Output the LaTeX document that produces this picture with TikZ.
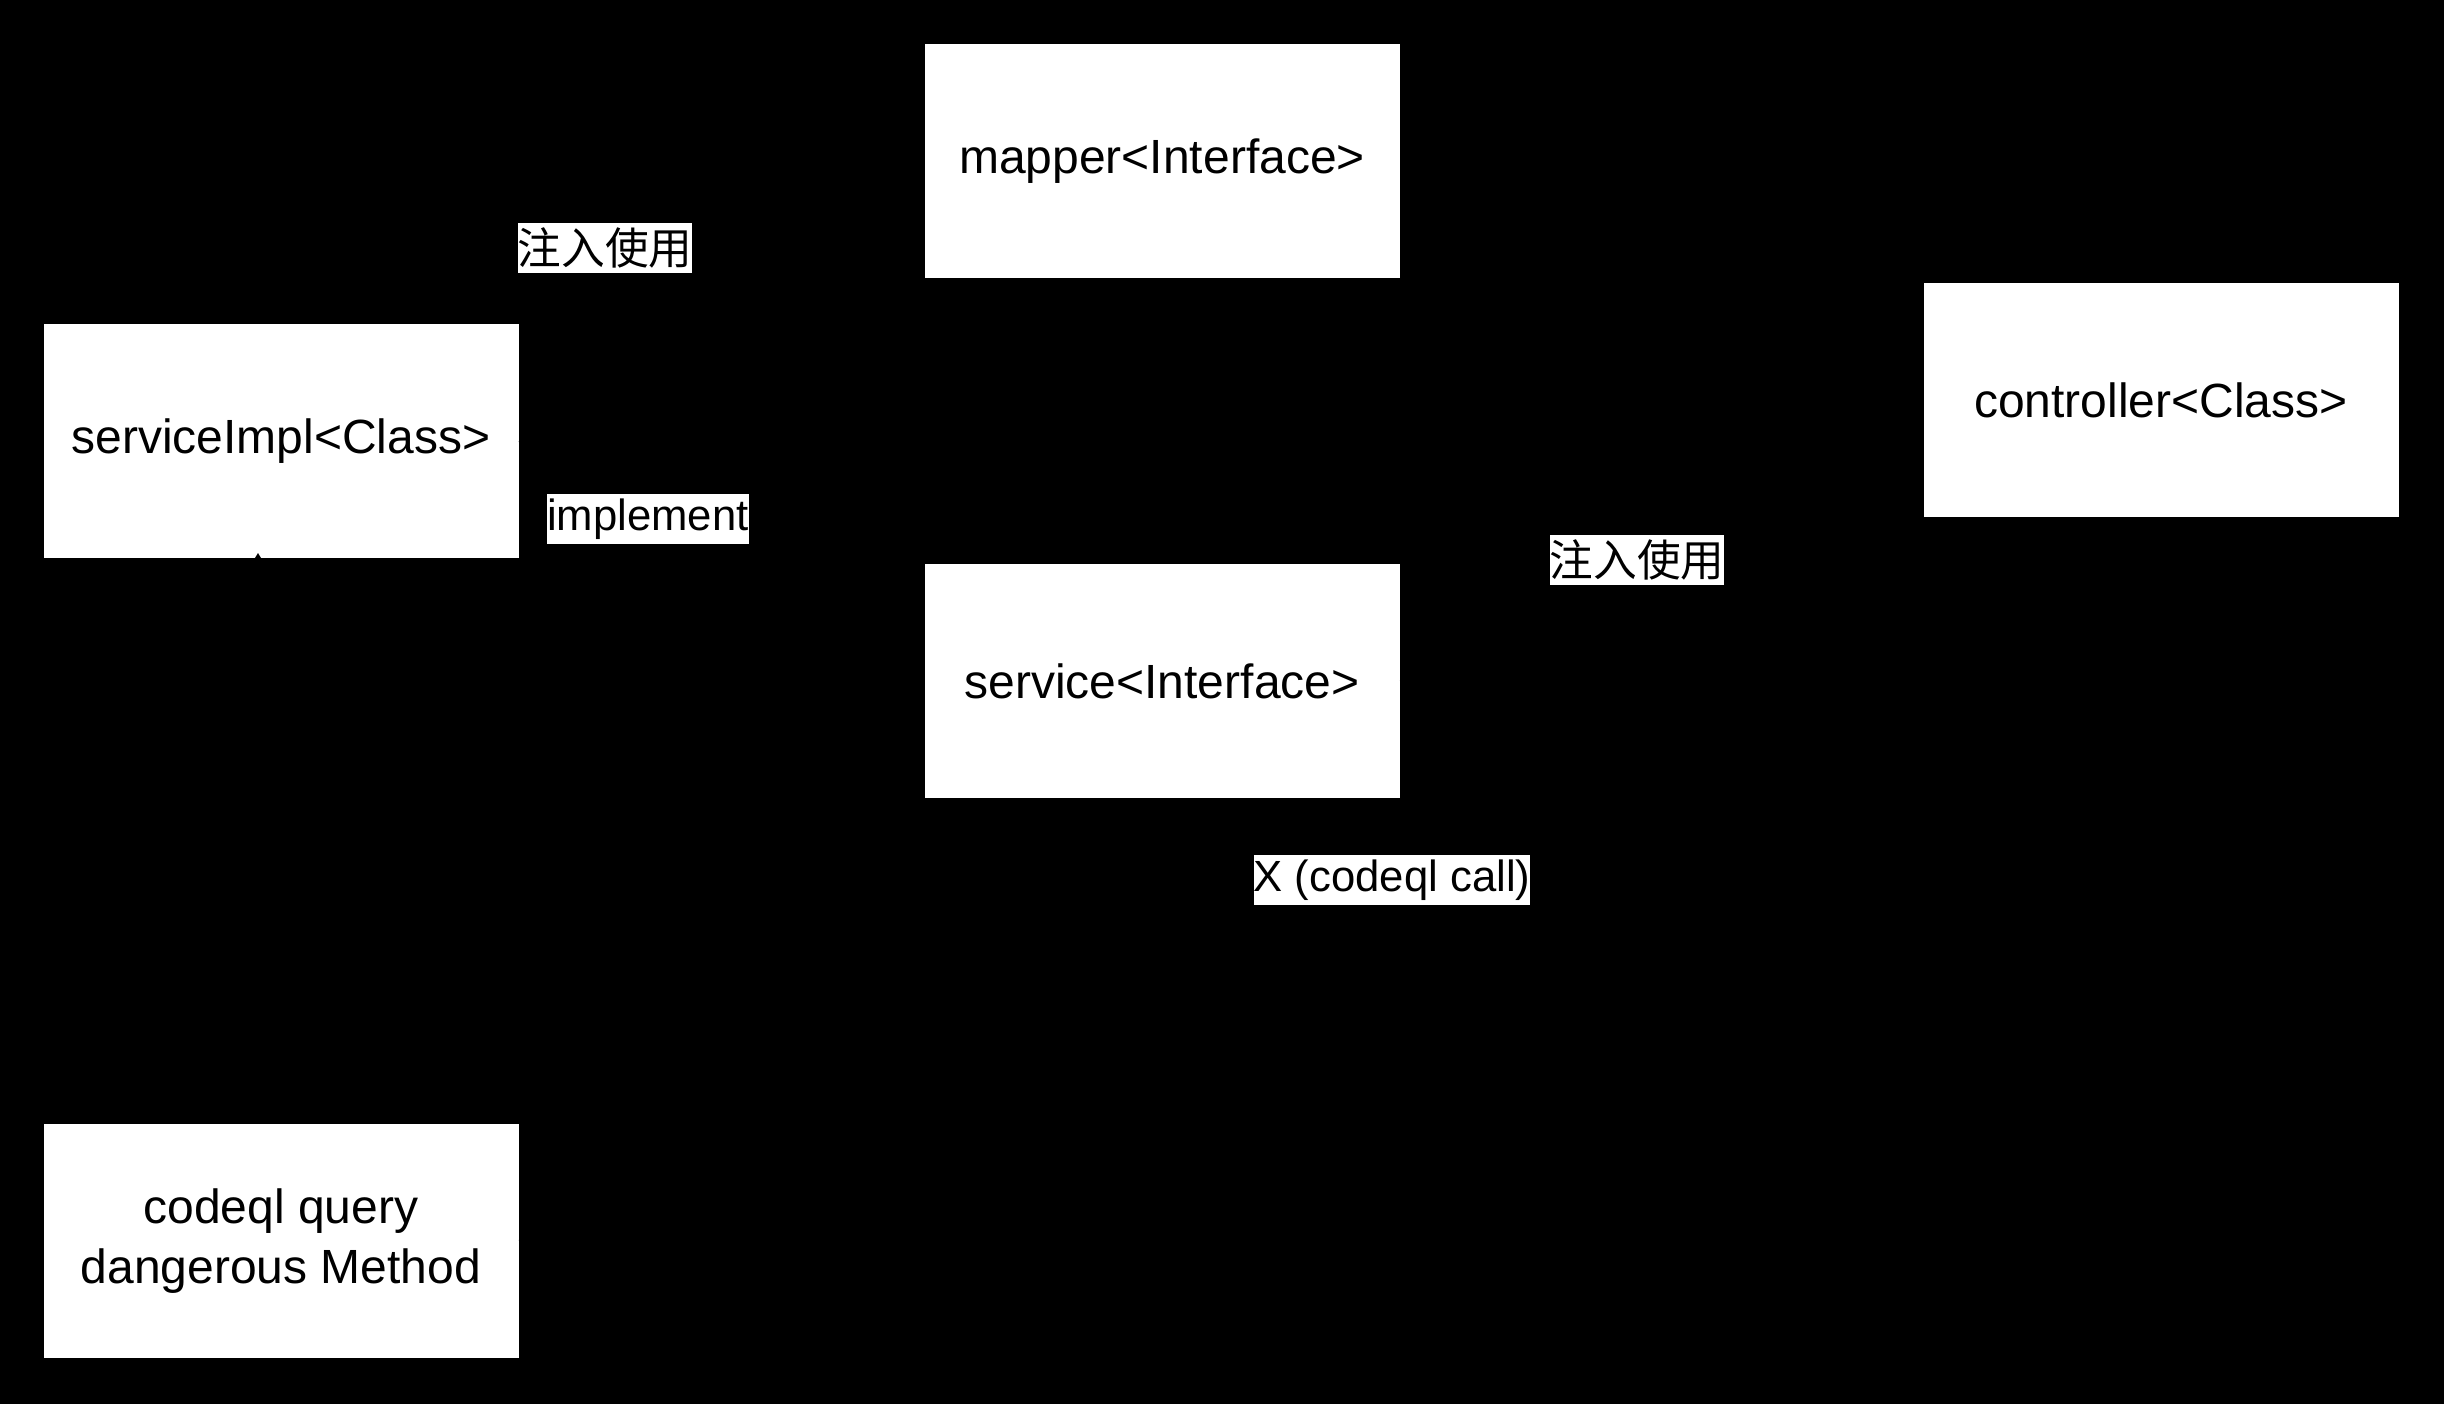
\documentclass[tikz,border=0pt]{standalone}
\usepackage{fontspec}
\setmainfont{Liberation Sans}
\newfontfamily\cjk{Noto Sans CJK SC}
\usetikzlibrary{arrows.meta}
\begin{document}
\begin{tikzpicture}[x=0.3pt,y=-0.3pt,
  box/.style={draw=none,fill=white,minimum width=142.5pt,minimum height=70.2pt,inner sep=0pt,align=center,font=\fontsize{14.4}{17.8}\selectfont},
  lbl/.style={fill=white,inner xsep=0pt,inner ysep=0pt,minimum height=15pt,font=\fontsize{13.1}{15.5}\selectfont},
  conn/.style={draw=black,line width=0.6pt,-{Triangle[length=3pt,width=3.5pt]}}]
\fill[black] (0,0) rectangle (2444,1404);
\useasboundingbox (0,0) rectangle (2444,1404);
\node[box] (mapper) at (1162,161) {mapper<Interface>};
\node[box] (impl) at (281,441) {serviceImpl<Class>};
\node[box] (service) at (1162,681) {service<Interface>};
\node[box] (ctrl) at (2161,400) {controller<Class>};
\node[box] (query) at (281,1241) {codeql query\\dangerous Method};
\coordinate (tip) at (258,553);
\draw[conn,shorten >=1.5pt] (mapper.west) -- (impl.north east);
\draw[conn,shorten >=1.5pt] (impl.east) -- (service.west);
\draw[conn,shorten >=1.5pt] (service.east) -- (ctrl.south west);
\draw[conn,shorten >=1.5pt] (query.east) -- (ctrl.south);
\draw[conn] (query.north) ++(-23,0) coordinate (qs) (qs) -- (tip);
\node[lbl,font=\cjk\fontsize{13.1}{15.5}\selectfont] (l1) at (605,248) {注入使用};
\node[lbl] (l2) at (648,519) {implement};
\node[lbl,font=\cjk\fontsize{13.1}{15.5}\selectfont] (l3) at (1637,560) {注入使用};
\node[lbl] (l4) at (1392,880) {X (codeql call)};
\end{tikzpicture}
\end{document}
